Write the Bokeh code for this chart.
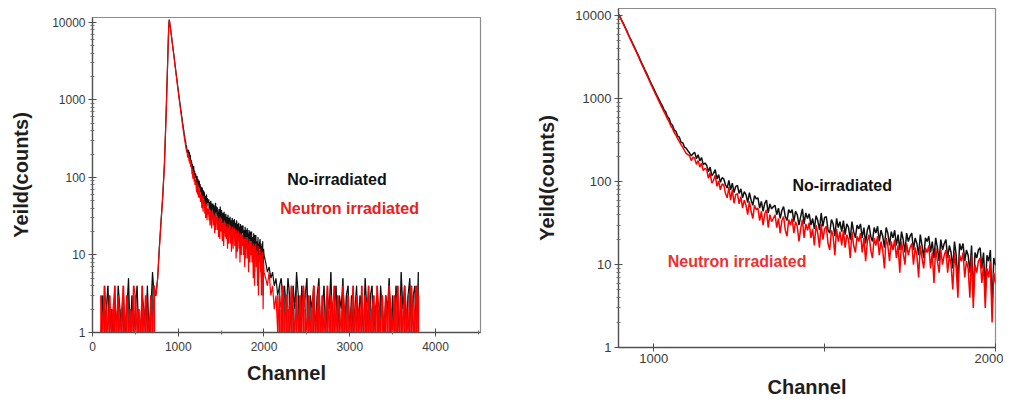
from bokeh.plotting import figure
from bokeh.layouts import row
from bokeh.models import Range1d, FixedTicker, PrintfTickFormatter, Label
from bokeh.embed import file_html
from bokeh.resources import INLINE

# ---------------- data ----------------
ch_seg1 = list(range(100, 900, 20))    # 100..880
ch_seg2 = list(range(885, 2005, 5))    # 885..2000
ch_seg3 = list(range(2020, 3820, 20))  # 2020..3800

black_seg1 = [1, 3, 1, 2, 4, 1, 2, 1, 3, 1, 4, 2, 1, 3, 1, 2, 5, 1, 3, 1,
              2, 4, 1, 1, 3, 2, 1, 4, 1, 2, 6, 3,
              3, 5, 13, 28, 60, 160, 750, 4200]
red_seg1 = [3, 1, 4, 2, 1, 3, 1, 2, 4, 1, 3, 1, 2, 4, 1, 3, 1, 2, 1, 4,
            3, 1, 2, 1, 4, 1, 3, 2, 1, 3, 1, 4,
            3, 5, 12, 27, 58, 155, 730, 4100]

black_seg2 = [6500, 9200, 10800,
              10000, 9100, 8300, 7500, 6800, 6100, 5500, 5000, 4500, 4100,
              3700, 3350, 3000, 2700, 2450, 2200, 2000, 1800, 1620, 1470,
              1330, 1200, 1090, 990, 900, 830, 740, 700, 610, 580,
              505, 480, 420, 405, 355, 345, 300, 295, 262, 255,
              236,
              222, 205, 218, 226, 190, 212, 178, 196, 160, 168,
              158, 132, 150, 118, 126, 140, 108, 122, 98, 112,
              108, 92, 84, 104, 80, 96, 74, 88, 90, 72,
              82, 64, 76, 70, 56, 74, 60, 52, 68, 62,
              64, 48, 58, 44, 55, 60, 42, 54, 47, 50,
              52, 40, 48, 36, 45, 50, 38, 34, 46, 42,
              46, 33, 44, 40, 30, 38, 47, 31, 42, 36,
              41, 30, 36, 27, 39, 34, 26, 42, 29, 37,
              38, 26, 24, 35, 31, 22, 36, 28, 33, 25,
              34, 23, 31, 28, 20, 33, 25, 21, 30, 27,
              31, 21, 28, 18, 26, 30, 22, 19, 28, 24,
              29, 19, 26, 22, 16, 28, 24, 17, 25, 21,
              26, 17, 23, 15, 25, 20, 14, 24, 19, 22,
              24, 15, 21, 18, 13, 23, 17, 12, 21, 19,
              22, 14, 19, 12, 21, 16, 11, 20, 15, 18,
              20, 12, 17, 14, 9, 19, 13, 6, 18, 15,
              18, 11, 15, 13, 8, 17, 4, 14, 12, 15,
              16, 9, 14, 5, 13, 11, 15, 3, 12, 10]
red_seg2 = [6400, 9100, 10700,
            9900, 9000, 8200, 7400, 6700, 6000, 5400, 4900, 4400, 4000,
            3600, 3250, 2900, 2620, 2370, 2130, 1930, 1740, 1560, 1410,
            1270, 1150, 1040, 940, 850, 770, 700, 640, 575, 530,
            470, 440, 390, 365, 330, 305, 280, 260, 238, 220,
            212,
            205, 180, 198, 192, 162, 180, 150, 168, 136, 145,
            140, 110, 128, 96, 104, 120, 88, 102, 80, 94,
            92, 72, 64, 86, 60, 80, 55, 70, 72, 54,
            66, 48, 60, 52, 40, 58, 44, 36, 52, 46,
            48, 34, 44, 30, 41, 46, 28, 40, 33, 36,
            40, 28, 36, 24, 34, 38, 26, 22, 35, 30,
            36, 24, 33, 29, 19, 27, 35, 21, 31, 26,
            32, 21, 27, 17, 30, 24, 16, 31, 20, 27,
            29, 18, 15, 26, 22, 13, 27, 19, 25, 17,
            26, 16, 23, 20, 12, 25, 17, 14, 22, 19,
            24, 14, 21, 11, 19, 23, 15, 12, 21, 17,
            22, 13, 19, 15, 9, 21, 17, 11, 19, 15,
            20, 12, 17, 8, 19, 14, 10, 18, 13, 16,
            18, 10, 16, 13, 7, 17, 12, 9, 16, 14,
            17, 9, 14, 6, 16, 11, 8, 15, 10, 13,
            15, 8, 13, 10, 5, 14, 9, 4, 13, 11,
            14, 7, 11, 9, 4, 13, 3, 10, 8, 11,
            12, 6, 10, 3, 9, 7, 11, 2, 8, 6]

black_seg3 = [8, 6, 7, 5, 6, 4, 5, 3, 4, 5,
              3, 4, 2, 5, 3, 1, 4, 2, 6, 3,
              1, 4, 2, 3, 5, 1, 3, 2, 4, 1,
              3, 5, 1, 2, 4, 1, 3, 2, 6, 1,
              2, 4, 1, 3, 2, 5, 1, 3, 4, 1,
              3, 1, 2, 4, 1, 3, 2, 1, 5, 2,
              1, 3, 4, 1, 2, 3, 1, 4, 2, 1,
              3, 2, 5, 1, 3, 1, 4, 2, 1, 6,
              2, 4, 1, 3, 5, 1, 3, 4, 1, 6]
red_seg3 = [5, 4, 6, 3, 4, 2, 3, 1, 3, 2,
            4, 1, 3, 2, 1, 4, 2, 1, 3, 1,
            3, 1, 4, 2, 1, 3, 1, 2, 4, 1,
            2, 4, 1, 3, 1, 2, 4, 1, 3, 2,
            4, 1, 3, 2, 1, 4, 2, 1, 3, 1,
            2, 4, 1, 3, 2, 1, 4, 1, 3, 2,
            4, 1, 2, 3, 1, 4, 2, 1, 3, 1,
            3, 1, 4, 2, 1, 3, 2, 4, 1, 3,
            1, 4, 2, 1, 3, 4, 1, 2, 4, 3]

for a, b in [(ch_seg1, black_seg1), (ch_seg1, red_seg1), (ch_seg2, black_seg2),
             (ch_seg2, red_seg2), (ch_seg3, black_seg3), (ch_seg3, red_seg3)]:
    assert len(a) == len(b), (len(a), len(b))

channel = ch_seg1 + ch_seg2 + ch_seg3
no_irradiated = black_seg1 + black_seg2 + black_seg3
neutron_irradiated = red_seg1 + red_seg2 + red_seg3

# background-noise parts of the spectra (counts drop to zero between hits)
noise_channel = ch_seg1[:32] + ch_seg3[7:]
noise_black = black_seg1[:32] + black_seg3[7:]
noise_red = red_seg1[:32] + red_seg3[7:]

x_ticks_left = [0, 1000, 2000, 3000, 4000]
x_minor_left = [500, 1500, 2500, 3500, 4500]
x_ticks_right = [1000, 1500, 2000]
y_ticks = [1, 10, 100, 1000, 10000]
y_minor = [m * 10 ** e for e in range(4) for m in range(2, 10)]

FONT = "Liberation Sans"
BLACK = "#111111"
RED = "#ff0000"


def make_fig(width, height, xr, yr, borders, tick_size):
    p = figure(width=width, height=height, x_range=Range1d(*xr), y_range=Range1d(*yr),
               y_axis_type="log", output_backend="svg", toolbar_location=None,
               min_border_left=borders[0], min_border_right=borders[1],
               min_border_top=borders[2], min_border_bottom=borders[3],
               x_axis_label="Channel", y_axis_label="Yeild(counts)")
    p.grid.visible = False
    p.background_fill_color = "white"
    p.border_fill_color = "white"
    p.outline_line_color = "#8c8c8c"
    p.outline_line_width = 1.2
    for ax in (p.xaxis[0], p.yaxis[0]):
        ax.axis_line_color = "#505050"
        ax.axis_line_width = 1.3
        ax.major_tick_line_color = "#505050"
        ax.minor_tick_line_color = "#707070"
        ax.major_tick_in = 4
        ax.major_tick_out = 4
        ax.minor_tick_in = 2
        ax.minor_tick_out = 2
        ax.major_label_text_font = FONT
        ax.major_label_text_font_size = tick_size
        ax.major_label_text_color = "#3a3a3a"
        ax.axis_label_text_font = FONT
        ax.axis_label_text_font_style = "bold"
        ax.axis_label_text_font_size = "20px"
        ax.axis_label_text_color = "#1e1e1e"
    p.yaxis[0].ticker = FixedTicker(ticks=y_ticks, minor_ticks=y_minor)
    p.yaxis[0].formatter = PrintfTickFormatter(format="%d")
    p.yaxis[0].major_label_standoff = 3
    return p


# ---------------- left panel ----------------
left = make_fig(528, 377, (0, 4525), (1, 11500), (92, 48, 8, 54), "12px")
left.margin = (9, 0, 0, 0)
left.yaxis[0].axis_label_standoff = 17
left.xaxis[0].ticker = FixedTicker(ticks=x_ticks_left, minor_ticks=x_minor_left)
left.xaxis[0].major_label_standoff = 5
left.xaxis[0].axis_label_standoff = 8
left.line(channel, no_irradiated, line_color=BLACK, line_width=1.2)
left.vbar(x=noise_channel, top=noise_black, bottom=1, width=9,
          fill_color=BLACK, line_color=None)
left.vbar(x=noise_channel, top=noise_red, bottom=1, width=20,
          fill_color=RED, line_color=None)
left.line(channel, neutron_irradiated, line_color=RED, line_width=1.2)
left.add_layout(Label(x=2270, y=95, text="No-irradiated", text_font=FONT,
                      text_font_style="bold", text_font_size="16px",
                      text_color="#111111", text_baseline="middle"))
left.add_layout(Label(x=2190, y=40, text="Neutron irradiated", text_font=FONT,
                      text_font_style="bold", text_font_size="16px",
                      text_color="#e82020", text_baseline="middle"))

# ---------------- right panel ----------------
right = make_fig(475, 401, (897, 2000), (1, 12300), (90, 8, 8, 54), "13px")
right.yaxis[0].axis_label_standoff = 14
right.xaxis[0].ticker = FixedTicker(ticks=x_ticks_right, minor_ticks=[])
right.xaxis[0].major_label_overrides = {1500: ""}
right.xaxis[0].major_label_standoff = 2
right.xaxis[0].axis_label_standoff = 10
right.line(channel, no_irradiated, line_color=BLACK, line_width=1.5)
right.line(channel, neutron_irradiated, line_color=RED, line_width=1.5)
right.add_layout(Label(x=1406, y=90, text="No-irradiated", text_font=FONT,
                       text_font_style="bold", text_font_size="16px",
                       text_color="#111111", text_baseline="middle"))
right.add_layout(Label(x=1041, y=10.9, text="Neutron irradiated", text_font=FONT,
                       text_font_style="bold", text_font_size="16px",
                       text_color="#ee3030", text_baseline="middle"))

layout = row(left, right)
open("out.html", "w").write(file_html(layout, INLINE))
